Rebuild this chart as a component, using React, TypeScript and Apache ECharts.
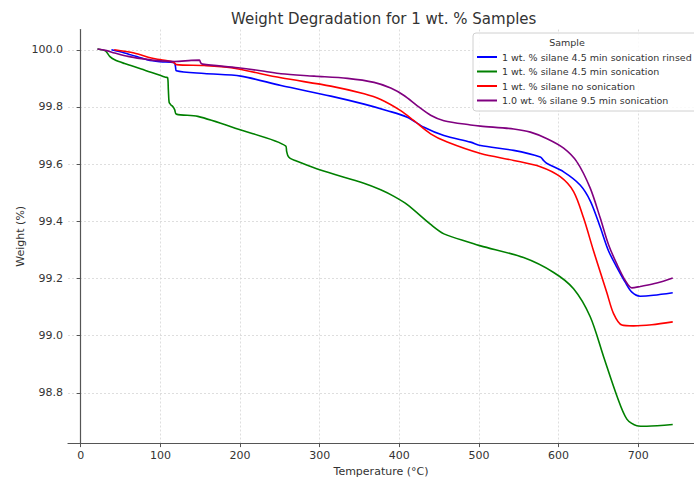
import React, { useEffect, useRef } from "react";
import * as echarts from "echarts";

const seriesNames = [
  "1 wt. % silane 4.5 min sonication rinsed",
  "1 wt. % silane 4.5 min sonication",
  "1 wt. % silane no sonication",
  "1.0 wt. % silane 9.5 min sonication",
];
const seriesColors = ["#0000ff", "#008000", "#ff0000", "#800080"];

const tempBlue = [38.5, 55, 72, 84.4, 100, 117.4, 119, 120, 155, 201, 251.4, 314, 355.8, 385, 410, 431, 456, 489.4, 502, 543.6, 577, 581, 585.5, 606.3, 627, 640, 652.2, 662.6, 673.2, 683.6, 692, 702.4, 719, 743.3];
const weightBlue = [100.0, 99.989, 99.975, 99.964, 99.958, 99.954, 99.94, 99.927, 99.917, 99.908, 99.875, 99.838, 99.81, 99.787, 99.764, 99.729, 99.7, 99.677, 99.665, 99.648, 99.625, 99.613, 99.602, 99.573, 99.527, 99.47, 99.38, 99.297, 99.239, 99.187, 99.152, 99.138, 99.141, 99.15];

const tempGreen = [21, 31, 36.3, 42.6, 55, 76, 106.5, 109, 110, 111, 113, 116, 118, 120, 147, 197, 257.5, 258.5, 260, 263, 270, 300, 355.5, 376.6, 393.3, 410, 439.3, 456, 489.4, 502, 556, 593.8, 618.8, 639.7, 656.4, 673.2, 685.7, 698.2, 710.8, 743.3];
const weightGreen = [100.003, 99.996, 99.977, 99.965, 99.952, 99.933, 99.904, 99.903, 99.86, 99.816, 99.808, 99.8, 99.79, 99.775, 99.767, 99.723, 99.663, 99.645, 99.63, 99.62, 99.612, 99.58, 99.533, 99.51, 99.487, 99.458, 99.389, 99.356, 99.325, 99.314, 99.273, 99.221, 99.164, 99.066, 98.927, 98.789, 98.708, 98.685, 98.683, 98.689];

const tempRed = [42, 67, 88.6, 101, 117, 120, 155, 188.8, 251.4, 314, 355.8, 376.7, 401.7, 418.4, 439.3, 460.2, 502, 543.6, 577, 602, 618.8, 631.3, 643.8, 654.4, 660.6, 669, 679.4, 694, 717, 743.3];
const weightRed = [100.0, 99.989, 99.971, 99.965, 99.956, 99.948, 99.945, 99.937, 99.902, 99.873, 99.846, 99.826, 99.787, 99.752, 99.706, 99.677, 99.637, 99.613, 99.591, 99.556, 99.504, 99.412, 99.297, 99.204, 99.15, 99.077, 99.037, 99.034, 99.038, 99.048];

const tempPurple = [21, 31, 42.6, 59.4, 76, 92.7, 117.8, 138.7, 149, 150.5, 153, 197.5, 230.5, 251.4, 293, 335, 368.3, 389.2, 405.9, 422.6, 439.3, 456, 489.4, 502, 543.6, 564.6, 585.5, 606.3, 623, 639.7, 652.2, 662.6, 673.2, 683.6, 692, 702.4, 723.3, 743.3];
const weightPurple = [100.003, 99.998, 99.989, 99.977, 99.969, 99.963, 99.959, 99.963, 99.964, 99.955, 99.95, 99.937, 99.925, 99.916, 99.908, 99.9, 99.886, 99.866, 99.84, 99.804, 99.771, 99.752, 99.737, 99.733, 99.723, 99.712, 99.689, 99.656, 99.608, 99.516, 99.412, 99.319, 99.25, 99.193, 99.167, 99.172, 99.184, 99.202];

const temps = [tempBlue, tempGreen, tempRed, tempPurple];
const weights = [weightBlue, weightGreen, weightRed, weightPurple];

const FONT = "DejaVu Sans";

export default function App() {
  const ref = useRef<HTMLDivElement>(null);
  useEffect(() => {
    document.body.style.margin = "0";
    const chart = echarts.init(ref.current!, null, { renderer: "svg" });
    const series = seriesNames.map((name, i) => ({
      name,
      type: "line",
      showSymbol: false,
      symbol: "none",
      smooth: 0.3,
      color: seriesColors[i],
      lineStyle: { color: seriesColors[i], width: 1.6 },
      data: temps[i].map((t, j) => [t, weights[i][j]]),
      z: 2,
    }));
    chart.setOption({
      animation: false,
      backgroundColor: "#ffffff",
      title: {
        text: "Weight Degradation for 1 wt. % Samples",
        left: 231,
        top: 11,
        padding: 0,
        textStyle: { fontFamily: FONT, fontSize: 15, fontWeight: "normal", color: "#333" },
      },
      grid: { left: 68, right: 0, top: 29.5, bottom: 34, containLabel: false },
      xAxis: {
        type: "value",
        min: -16,
        max: 770,
        splitNumber: 8,
        name: "Temperature (°C)",
        nameLocation: "middle",
        nameGap: 19,
        nameTextStyle: { fontFamily: FONT, fontSize: 11, color: "#333" },
        axisLine: { show: true, lineStyle: { color: "#555", width: 1.2 } },
        axisTick: { show: true, length: 4, lineStyle: { color: "#555" } },
        axisLabel: {
          showMinLabel: false,
          showMaxLabel: false,
          margin: 7,
          fontFamily: FONT,
          fontSize: 11,
          color: "#333",
        },
        splitLine: {
          show: true,
          showMinLine: false,
          showMaxLine: false,
          lineStyle: { color: "#d6d6d6", type: [2, 2], width: 0.8 },
        },
      },
      yAxis: {
        type: "value",
        min: 98.624,
        max: 100.071,
        splitNumber: 7,
        name: "Weight (%)",
        nameLocation: "middle",
        nameGap: 42,
        nameMoveOverlap: false,
        nameTextStyle: { fontFamily: FONT, fontSize: 11, color: "#333" },
        axisLine: { show: true, lineStyle: { color: "#555", width: 1.2 } },
        axisTick: { show: true, length: 4, lineStyle: { color: "#555" } },
        axisLabel: {
          showMinLabel: false,
          showMaxLabel: false,
          margin: 5,
          fontFamily: FONT,
          fontSize: 11,
          color: "#333",
          formatter: (v: number) => v.toFixed(1),
        },
        splitLine: {
          show: true,
          showMinLine: false,
          showMaxLine: false,
          lineStyle: { color: "#d6d6d6", type: [2, 2], width: 0.8 },
        },
      },
      legend: {
        orient: "vertical",
        left: 477,
        top: 50,
        padding: 0,
        icon: "rect",
        itemWidth: 20,
        itemHeight: 2,
        itemGap: 0.5,
        textStyle: { fontFamily: FONT, fontSize: 9.5, color: "#333", lineHeight: 14 },
        data: seriesNames,
        z: 5,
      },
      graphic: [
        {
          type: "rect",
          z: 4,
          shape: { x: 473, y: 33, width: 240, height: 78, r: 3 },
          style: { fill: "rgba(255,255,255,0.85)", stroke: "#d0d0d0", lineWidth: 1 },
        },
        {
          type: "text",
          z: 5,
          x: 567,
          y: 42,
          style: {
            text: "Sample",
            fontFamily: FONT,
            fontSize: 9.5,
            fill: "#333",
            align: "center",
            verticalAlign: "middle",
          },
        },
      ],
      series,
    });
    return () => chart.dispose();
  }, []);
  return <div ref={ref} style={{ position: "absolute", left: 0, top: 0, width: 694, height: 482 }} />;
}
